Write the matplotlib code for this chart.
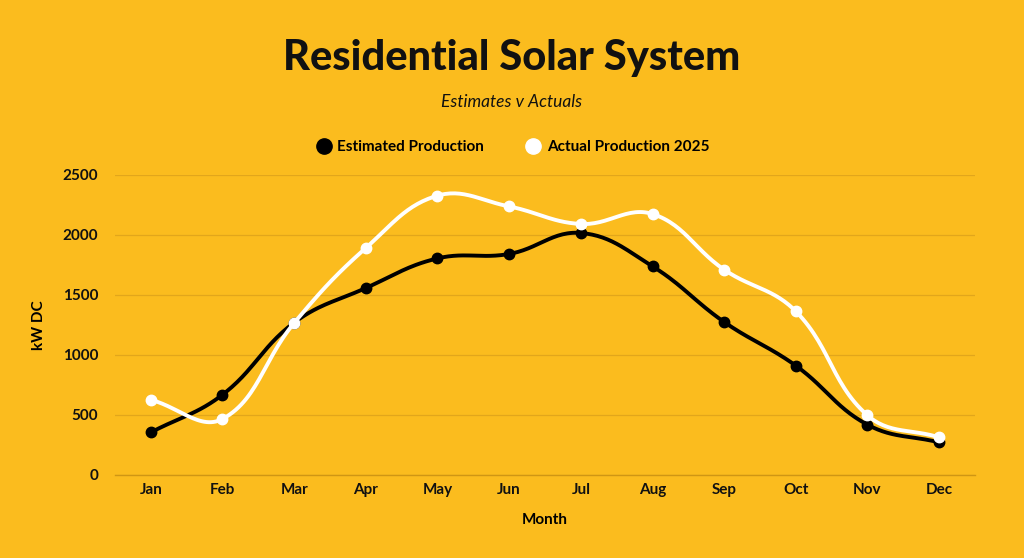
import numpy as np
import matplotlib
matplotlib.use("Agg")
import matplotlib.pyplot as plt
from matplotlib.lines import Line2D

# Data
months = ["Jan", "Feb", "Mar", "Apr", "May", "Jun",
          "Jul", "Aug", "Sep", "Oct", "Nov", "Dec"]
estimated = [355, 669, 1270, 1558, 1805, 1842, 2017, 1739, 1275, 911, 419, 272]
actual = [627, 467, 1267, 1892, 2328, 2238, 2092, 2175, 1711, 1364, 497, 314]
yticks = [0, 500, 1000, 1500, 2000, 2500]

BG = "#FBBC1E"
GRID = "#E2A61B"
AXIS = "#CF9614"

plt.rcParams['font.family'] = ['Lato', 'DejaVu Sans']


def tension_curve(ax, xs, ys, tension=0.4, n=30):
    # bezier smoothing done in pixel space, then mapped back to data
    pts = ax.transData.transform(np.column_stack([xs, ys]))
    out = []
    cps = []
    for i in range(len(pts)):
        prev = pts[i - 1] if i > 0 else pts[i]
        nxt = pts[i + 1] if i < len(pts) - 1 else pts[i]
        d01 = np.hypot(*(pts[i] - prev))
        d12 = np.hypot(*(nxt - pts[i]))
        tot = d01 + d12 if d01 + d12 > 0 else 1.
        fa = tension * d01 / tot
        fb = tension * d12 / tot
        cps.append((pts[i] - fa * (nxt - prev), pts[i] + fb * (nxt - prev)))
    t = np.linspace(0, 1, n)[:, None]
    for i in range(len(pts) - 1):
        p0 = pts[i]
        p1 = cps[i][1]
        p2 = cps[i + 1][0]
        p3 = pts[i + 1]
        seg = ((1 - t) ** 3) * p0 + 3 * ((1 - t) ** 2) * t * p1 \
            + 3 * (1 - t) * t ** 2 * p2 + t ** 3 * p3
        out.append(seg if i == 0 else seg[1:])
    out = np.vstack(out)
    return ax.transData.inverted().transform(out)


fig = plt.figure(figsize=(10.24, 5.58), dpi=100, facecolor=BG)
ax = fig.add_axes([115 / 1024, 83 / 558, 860 / 1024, 300 / 558])
ax.set_facecolor(BG)

x = np.arange(len(months))
ax.set_xlim(-0.5, len(months) - 0.5)
ax.set_ylim(0, 2500)
fig.canvas.draw()

for vals, col, z in [(estimated, "black", 3), (actual, "white", 4)]:
    curve = tension_curve(ax, x, vals)
    ax.plot(curve[:, 0], curve[:, 1], color=col, lw=2.8, zorder=z,
            solid_capstyle='round')
    ax.plot(x, vals, 'o', color=col, ms=7.5, zorder=z)

ax.set_yticks(yticks)
ax.set_xticks(x)
ax.set_xticklabels(months)
ax.grid(axis='y', color=GRID, lw=0.9)
ax.set_axisbelow(True)
for s in ['top', 'right', 'left']:
    ax.spines[s].set_visible(False)
ax.spines['bottom'].set_color(AXIS)
ax.spines['bottom'].set_linewidth(1.0)
ax.tick_params(length=0, labelsize=11, colors="#111111")
ax.tick_params(axis='x', pad=6)
ax.tick_params(axis='y', pad=12)
for lab in ax.get_xticklabels() + ax.get_yticklabels():
    lab.set_fontweight('bold')

ax.set_xlabel("Month", fontsize=11, fontweight='bold', labelpad=11)
ax.set_ylabel("kW DC", fontsize=11, fontweight='bold', labelpad=12)

fig.text(0.5, 1 - 58 / 558, "Residential Solar System", ha='center', va='center',
         fontsize=30, fontweight='black', color="#111111")
fig.text(0.5, 1 - 102 / 558, "Estimates v Actuals", ha='center', va='center',
         fontsize=12.5, style='italic', color="#111111")

handles = [Line2D([], [], marker='o', ls='', color='black', ms=11),
           Line2D([], [], marker='o', ls='', color='white', ms=11)]
leg = fig.legend(handles, ["Estimated Production", "Actual Production 2025"],
                 loc='center', bbox_to_anchor=(0.5, 1 - 147 / 558), ncol=2,
                 frameon=False, handletextpad=0.3, columnspacing=2.6,
                 handlelength=1.2, prop={'weight': 'bold', 'size': 11})

fig.savefig("out.png", dpi=100, facecolor=BG)
